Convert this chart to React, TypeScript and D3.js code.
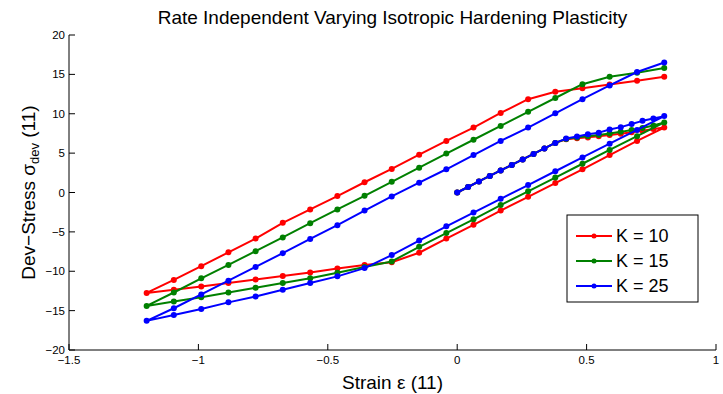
import React from "react";
import * as d3 from "d3";

const title = "Rate Independent Varying Isotropic Hardening Plasticity";
const xTicks = [-1.5, -1, -0.5, 0, 0.5, 1];
const yTicks = [-20, -15, -10, -5, 0, 5, 10, 15, 20];
const seriesNames = ["K = 10", "K = 15", "K = 25"];
const seriesColors = ["#ff0000", "#008000", "#0000ff"];

const strainLoad = [0, 0.042, 0.084, 0.126, 0.168, 0.211, 0.253, 0.295, 0.337, 0.379, 0.421, 0.463, 0.505, 0.547, 0.589, 0.632, 0.674, 0.716, 0.758, 0.8];
const strainUnload = [0.8, 0.695, 0.589, 0.484, 0.379, 0.274, 0.168, 0.063, -0.042, -0.147, -0.253, -0.358, -0.463, -0.568, -0.674, -0.779, -0.884, -0.989, -1.095, -1.2];
const strainReload = [-1.2, -1.095, -0.989, -0.884, -0.779, -0.674, -0.568, -0.463, -0.358, -0.253, -0.147, -0.042, 0.063, 0.168, 0.274, 0.379, 0.484, 0.589, 0.695, 0.8];

// K = 10
const loadK10 = [0, 0.7, 1.4, 2.1, 2.8, 3.5, 4.2, 4.9, 5.6, 6.3, 6.75, 6.9, 7.0, 7.15, 7.3, 7.45, 7.65, 7.85, 8.05, 8.25];
const unloadK10 = [8.25, 6.55, 4.75, 2.95, 1.2, -0.55, -2.3, -4.1, -5.85, -7.65, -8.85, -9.2, -9.65, -10.15, -10.6, -11.05, -11.5, -11.95, -12.35, -12.75];
const reloadK10 = [-12.75, -11.1, -9.35, -7.6, -5.85, -3.85, -2.15, -0.45, 1.3, 3.0, 4.8, 6.55, 8.25, 10.1, 11.85, 12.8, 13.25, 13.7, 14.2, 14.7];

// K = 15
const loadK15 = [0, 0.7, 1.4, 2.1, 2.8, 3.5, 4.2, 4.9, 5.6, 6.3, 6.8, 7.0, 7.15, 7.3, 7.5, 7.7, 7.95, 8.2, 8.5, 8.9];
const unloadK15 = [8.9, 7.15, 5.4, 3.65, 1.9, 0.15, -1.6, -3.4, -5.15, -6.9, -8.75, -9.45, -10.2, -10.9, -11.5, -12.1, -12.7, -13.3, -13.85, -14.4];
const reloadK15 = [-14.4, -12.7, -10.9, -9.2, -7.45, -5.7, -3.9, -2.15, -0.42, 1.35, 3.15, 4.95, 6.7, 8.45, 10.25, 12.0, 13.75, 14.7, 15.2, 15.8];

// K = 25
const loadK25 = [0, 0.7, 1.4, 2.1, 2.8, 3.5, 4.2, 4.9, 5.6, 6.3, 6.85, 7.1, 7.4, 7.6, 8.0, 8.3, 8.7, 9.1, 9.4, 9.7];
const unloadK25 = [9.7, 7.95, 6.2, 4.45, 2.7, 0.95, -0.8, -2.55, -4.3, -6.1, -7.95, -9.6, -10.65, -11.5, -12.35, -13.2, -13.95, -14.8, -15.55, -16.3];
const reloadK25 = [-16.3, -14.7, -12.95, -11.2, -9.45, -7.7, -5.9, -4.15, -2.3, -0.5, 1.25, 2.95, 4.75, 6.55, 8.25, 10.05, 11.85, 13.6, 15.3, 16.5];

const loads = [loadK10, loadK15, loadK25];
const unloads = [unloadK10, unloadK15, unloadK25];
const reloads = [reloadK10, reloadK15, reloadK25];

const W = 723;
const H = 394;
const margin = { left: 69, right: 7, top: 35, bottom: 44 };
const FONT = "'Liberation Sans', Arial, Helvetica, sans-serif";
const minus = (s: string) => s.replace("-", "\u2212");

export default function App() {
  const x = d3.scaleLinear().domain([-1.5, 1]).range([margin.left, W - margin.right]);
  const y = d3.scaleLinear().domain([-20, 20]).range([H - margin.bottom, margin.top]);

  const series = seriesNames.map((name, i) => {
    const pts: [number, number][] = [];
    strainLoad.forEach((s, j) => pts.push([s, loads[i][j]]));
    strainUnload.forEach((s, j) => { if (j > 0) pts.push([s, unloads[i][j]]); });
    strainReload.forEach((s, j) => { if (j > 0) pts.push([s, reloads[i][j]]); });
    return { name, color: seriesColors[i], pts };
  });

  const line = d3.line<[number, number]>().x((d) => x(d[0])).y((d) => y(d[1]));
  const x0 = x.range()[0];
  const y0 = y.range()[0];
  const cx = (x.range()[0] + x.range()[1]) / 2;

  const lg = { x: 567, y: 215, w: 131, h: 87 };
  const rowH = 25;

  return (
    <svg width={W} height={H} style={{ position: "absolute", left: 0, top: 0, background: "#fff" }} fontFamily={FONT}>
      <rect width={W} height={H} fill="#fff" />
      <text x={cx} y={24} textAnchor="middle" fontSize={19} fill="#000">{title}</text>

      {/* axes */}
      <line x1={x0} x2={x.range()[1]} y1={y0} y2={y0} stroke="#000" strokeWidth={1} />
      <line x1={x0} x2={x0} y1={y0} y2={y.range()[1]} stroke="#000" strokeWidth={1} />
      {xTicks.map((t) => (
        <g key={"x" + t}>
          <line x1={x(t)} x2={x(t)} y1={y0} y2={y0 - 6} stroke="#000" />
          <text x={x(t)} y={y0 + 14} textAnchor="middle" fontSize={11.5}>{minus(String(t))}</text>
        </g>
      ))}
      {yTicks.map((t) => (
        <g key={"y" + t}>
          <line x1={x0} x2={x0 + 6} y1={y(t)} y2={y(t)} stroke="#000" />
          <text x={x0 - 4} y={y(t) + 4} textAnchor="end" fontSize={11.5}>{minus(String(t))}</text>
        </g>
      ))}
      <text x={cx} y={389} textAnchor="middle" fontSize={19}>Strain ε (11)</text>
      <text transform={`translate(35, ${(y0 + y.range()[1]) / 2}) rotate(-90)`} textAnchor="middle" fontSize={19}>
        Dev−Stress σ<tspan fontSize={13} dy={4}>dev</tspan><tspan dy={-4}> (11)</tspan>
      </text>

      {/* series */}
      {series.map((s) => (
        <g key={s.name}>
          <path d={line(s.pts) || ""} fill="none" stroke={s.color} strokeWidth={2} strokeLinejoin="round" />
          {s.pts.map((p, k) => (
            <circle key={k} cx={x(p[0])} cy={y(p[1])} r={3} fill={s.color} />
          ))}
        </g>
      ))}

      {/* legend */}
      <rect x={lg.x} y={lg.y} width={lg.w} height={lg.h} fill="#fff" stroke="#000" strokeWidth={1} />
      {series.map((s, i) => {
        const ry = lg.y + 21 + i * rowH;
        return (
          <g key={"lg" + s.name}>
            <line x1={lg.x + 9} x2={lg.x + 45} y1={ry} y2={ry} stroke={s.color} strokeWidth={2} />
            <circle cx={lg.x + 27} cy={ry} r={2.5} fill={s.color} />
            <text x={lg.x + 49} y={ry + 6} fontSize={18}>{s.name}</text>
          </g>
        );
      })}
    </svg>
  );
}
